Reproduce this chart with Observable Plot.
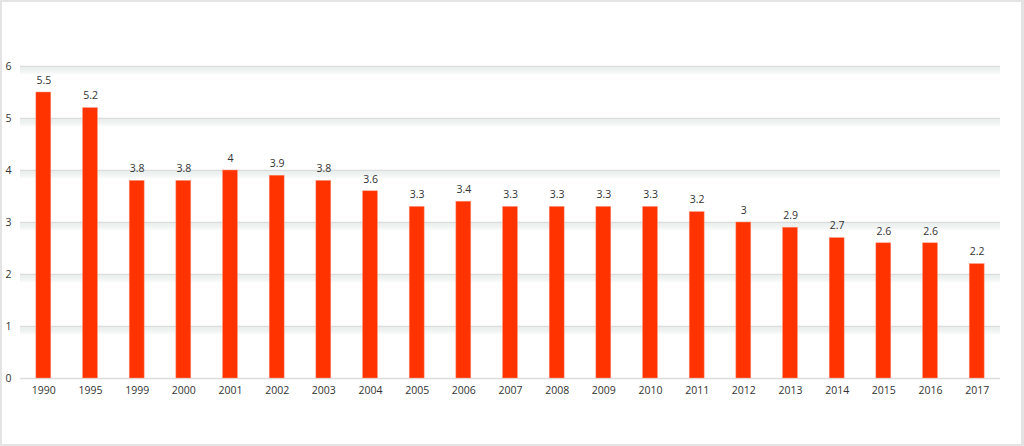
<!DOCTYPE html>
<html><head><meta charset="utf-8">
<script src="https://cdn.jsdelivr.net/npm/d3@7"></script>
<script src="https://cdn.jsdelivr.net/npm/@observablehq/plot@0.6"></script>
<style>
html,body{margin:0;padding:0;background:#fff;}
#wrap{position:relative;width:1024px;height:446px;}
#border{position:absolute;left:0;top:0;width:1024px;height:446px;box-sizing:border-box;border:2px solid #e4e4e4;border-right-width:3px;pointer-events:none;}
svg{display:block;}
</style>
</head><body>
<div id="wrap"><div id="border"></div></div>
<script>
const years = ["1990","1995","1999","2000","2001","2002","2003","2004","2005","2006","2007","2008","2009","2010","2011","2012","2013","2014","2015","2016","2017"];
const values = [5.5,5.2,3.8,3.8,4,3.9,3.8,3.6,3.3,3.4,3.3,3.3,3.3,3.3,3.2,3,2.9,2.7,2.6,2.6,2.2];
const yTicks = [0,1,2,3,4,5,6];

const data = years.map((y,i)=>({year:y, value:values[i]}));
const grid = yTicks.filter(d=>d>0);
const shadowSteps = [1,2,3,4,5,6,7];

const chart = Plot.plot({
  width: 1024,
  height: 446,
  marginLeft: 20,
  marginRight: 24,
  marginTop: 66,
  marginBottom: 68,
  style: {fontFamily: "'Open Sans', sans-serif", fontSize: "10.5px", color: "#333", background: "transparent"},
  x: {domain: years, paddingInner: 0.68, paddingOuter: 0.34, round: false, label: null},
  y: {domain: [0,6], label: null},
  marks: [
    ...shadowSteps.map(s => Plot.ruleY(grid, {stroke: "#dfe8e6", strokeWidth: 1, dy: s + 0.5, strokeOpacity: 1 - s/8})),
    Plot.ruleY(grid, {stroke: "#dcdcdc", strokeWidth: 1.5}),
    Plot.ruleY([0], {stroke: "#dcdcdc", strokeWidth: 1.5}),
    Plot.barY(data, {x: "year", y: "value", fill: "#ff3300", stroke: "#ff9a80", strokeWidth: 0.5}),
    Plot.text(data, {x: "year", y: "value", text: d => String(d.value), dy: -12, fill: "#333", fontSize: 10.5}),
    Plot.axisX({tickSize: 0, tickPadding: 8, fill: "#333", fontSize: 10.5}),
    Plot.axisY(yTicks, {tickSize: 0, tickPadding: 0, tickFormat: d => String(d), textAnchor: "start", dx: -15, fill: "#333", fontSize: 10.5})
  ]
});
document.getElementById("wrap").prepend(chart);
</script>
</body></html>
